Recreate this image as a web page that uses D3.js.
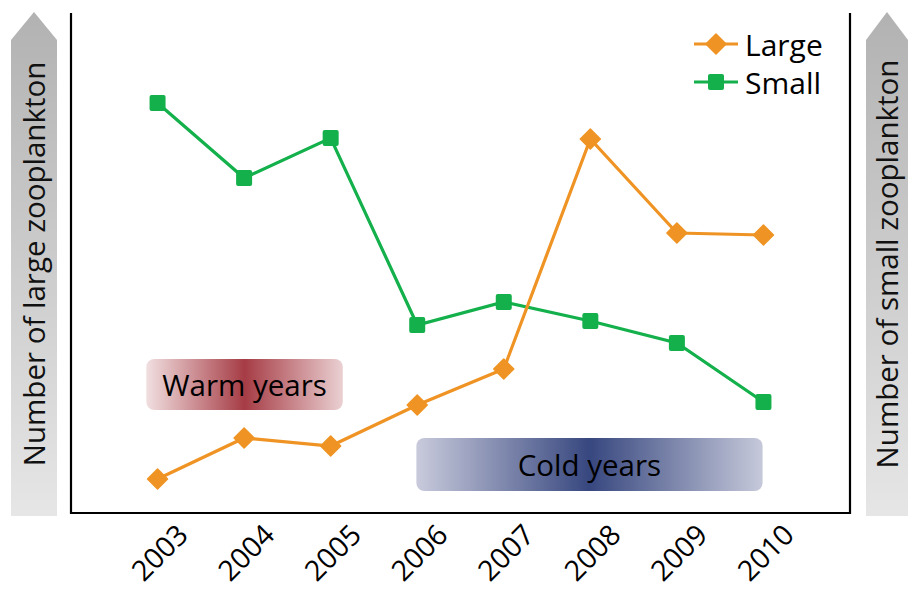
<!DOCTYPE html>
<html>
<head>
<meta charset="utf-8">
<script src="https://cdn.jsdelivr.net/npm/d3@7"></script>
<style>
html,body{margin:0;padding:0;background:#fff;}
svg{display:block;font-family:"Open Sans",sans-serif;}
</style>
</head>
<body>
<svg id="chart" width="912" height="592"></svg>
<script>
const years = [2003, 2004, 2005, 2006, 2007, 2008, 2009, 2010];
const largeValues = [6.8, 15, 13.4, 21.6, 28.8, 74.8, 56, 55.6];
const smallValues = [82, 67, 75, 37.6, 42.2, 38.4, 34, 22.2];
const seriesNames = ["Large", "Small"];
const leftAxisTitle = "Number of large zooplankton";
const rightAxisTitle = "Number of small zooplankton";
const warmLabel = "Warm years";
const coldLabel = "Cold years";

(function(){
const orange = "#ef9424", green = "#13b04b";
const svg = d3.select("#chart");
const pLeft = 71, pRight = 850, pTop = 13, pBottom = 513;

const x = d3.scaleLinear().domain([2002, 2011]).range([pLeft, pRight]);
const y = d3.scaleLinear().domain([0, 100]).range([pBottom, pTop]);

const defs = svg.append("defs");
const ag = defs.append("linearGradient").attr("id","arrowGrad").attr("x1",0).attr("x2",0).attr("y1",0).attr("y2",1);
ag.append("stop").attr("offset","0%").attr("stop-color","#b2b2b2");
ag.append("stop").attr("offset","100%").attr("stop-color","#e6e6e6");

const wg = defs.append("linearGradient").attr("id","warmGrad");
wg.append("stop").attr("offset","0%").attr("stop-color","#f1dfe0");
wg.append("stop").attr("offset","50%").attr("stop-color","#a63c45");
wg.append("stop").attr("offset","100%").attr("stop-color","#ead0d2");

const cg = defs.append("linearGradient").attr("id","coldGrad");
cg.append("stop").attr("offset","0%").attr("stop-color","#c9cbdc");
cg.append("stop").attr("offset","50%").attr("stop-color","#37477f");
cg.append("stop").attr("offset","100%").attr("stop-color","#c6c9da");

function arrow(x0, x1, title){
  const cx = (x0 + x1) / 2;
  const tip = 12, base = 40, end = 516;
  svg.append("path")
    .attr("d", `M${x0},${end}L${x0},${base}L${cx},${tip}L${x1},${base}L${x1},${end}Z`)
    .attr("fill","url(#arrowGrad)");
  svg.append("text")
    .attr("transform", `translate(${cx + 11},264) rotate(-90)`)
    .attr("text-anchor","middle")
    .attr("font-size", 29.5)
    .attr("fill","#111")
    .text(title);
}
arrow(11, 57, leftAxisTitle);
arrow(866, 908, rightAxisTitle);

svg.append("path")
  .attr("d", `M${pLeft},${pTop}V${pBottom}H${pRight}V${pTop}`)
  .attr("fill","none").attr("stroke","#000").attr("stroke-width",2.2);

const xAxis = d3.axisBottom(x).tickValues(years).tickFormat(d3.format("d")).tickSize(0);
const gx = svg.append("g").attr("transform", `translate(0,${pBottom})`).call(xAxis);
gx.select(".domain").remove();
gx.selectAll("text")
  .attr("font-size", 28.5)
  .attr("font-family", "\"Open Sans\",sans-serif")
  .attr("fill","#000")
  .attr("text-anchor","end")
  .attr("dy", null).attr("y", null)
  .attr("transform", "translate(24,16) rotate(-45)")
  .attr("dominant-baseline","central");

function box(y0, y1, v0, v1, fill, label){
  const x0 = x(y0), x1 = x(y1);
  svg.append("rect").attr("x", x0).attr("width", x1 - x0)
    .attr("y", y(v1)).attr("height", y(v0) - y(v1))
    .attr("rx", 8).attr("fill", fill);
  svg.append("text").attr("x", (x0 + x1) / 2).attr("y", (y(v0) + y(v1)) / 2)
    .attr("text-anchor","middle").attr("dominant-baseline","central")
    .attr("font-size", 29.5).attr("fill","#000").text(label);
}
box(2002.87, 2005.14, 20.6, 30.8, "url(#warmGrad)", warmLabel);
box(2005.99, 2009.99, 4.4, 15, "url(#coldGrad)", coldLabel);

const line = d3.line().x((d,i) => x(years[i])).y(d => y(d));
svg.append("path").datum(smallValues).attr("d", line)
  .attr("fill","none").attr("stroke", green).attr("stroke-width", 3.2);
svg.append("path").datum(largeValues).attr("d", line)
  .attr("fill","none").attr("stroke", orange).attr("stroke-width", 3.2);

const sq = 16, dm = 20;
svg.selectAll(".sq").data(smallValues).enter().append("rect")
  .attr("x", (d,i) => x(years[i]) - sq/2).attr("y", d => y(d) - sq/2)
  .attr("width", sq).attr("height", sq).attr("rx", 2).attr("fill", green);
svg.selectAll(".dm").data(largeValues).enter().append("path")
  .attr("transform", (d,i) => `translate(${x(years[i])},${y(d)}) rotate(45)`)
  .attr("d", d3.symbol().type(d3.symbolSquare).size(dm*dm/2))
  .attr("stroke", orange).attr("stroke-width", 1.5).attr("stroke-linejoin","round")
  .attr("fill", orange);

const legend = [
  {name: seriesNames[0], color: orange, shape: "diamond", yy: 44},
  {name: seriesNames[1], color: green, shape: "square", yy: 82}
];
legend.forEach(l => {
  svg.append("line").attr("x1", 694).attr("x2", 738).attr("y1", l.yy).attr("y2", l.yy)
    .attr("stroke", l.color).attr("stroke-width", 3.2);
  if (l.shape === "diamond") {
    svg.append("path").attr("transform", `translate(716,${l.yy}) rotate(45)`)
      .attr("d", d3.symbol().type(d3.symbolSquare).size(dm*dm/2))
      .attr("stroke", l.color).attr("stroke-width", 1.5).attr("stroke-linejoin","round").attr("fill", l.color);
  } else {
    svg.append("rect").attr("x", 716 - sq/2).attr("y", l.yy - sq/2).attr("width", sq).attr("height", sq)
      .attr("rx", 2).attr("fill", l.color);
  }
  svg.append("text").attr("x", 745).attr("y", l.yy).attr("dominant-baseline","central")
    .attr("font-size", 30).attr("fill","#000").text(l.name);
});
})();
</script>
</body>
</html>
